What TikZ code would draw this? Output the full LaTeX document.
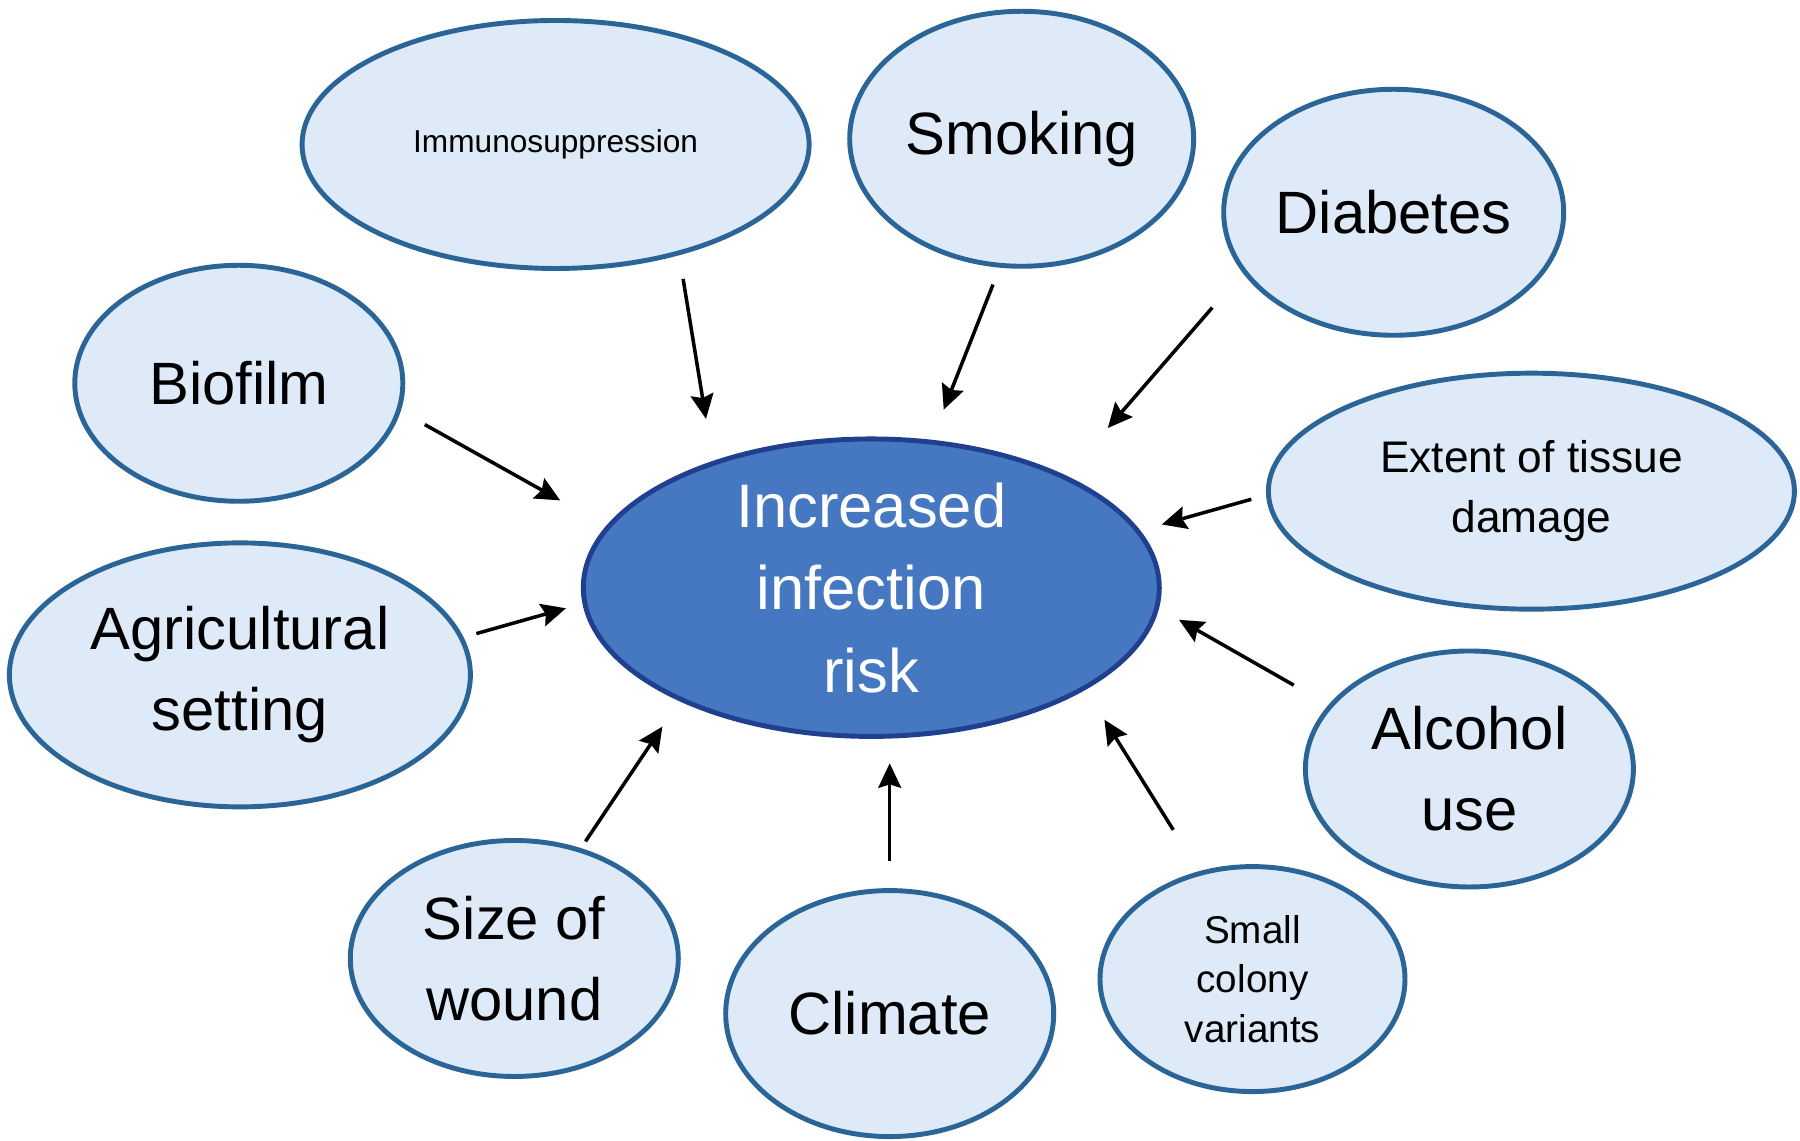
\documentclass[tikz,border=0pt]{standalone}
\usepackage{fontspec}
\setmainfont{Liberation Sans}
\usepackage{tikz}
\usetikzlibrary{shapes.geometric,arrows.meta,calc}

\definecolor{riskfill}{HTML}{4677C1}
\definecolor{riskline}{HTML}{1F3F8F}
\definecolor{factfill}{HTML}{DEEAF7}
\definecolor{factline}{HTML}{2B6597}

\begin{document}
\begin{tikzpicture}[
        factor/.style={ellipse,draw=factline,fill=factfill,line width=1.4pt,inner sep=0pt,align=center,
            font=\fontsize{17}{23}\selectfont},
        risk/.style={ellipse,draw=riskline,fill=riskfill,line width=1.4pt,inner sep=0pt,align=center,
            text=white,font=\fontsize{17.5}{23.5}\selectfont},
        arr/.style={-{Stealth[length=7pt,width=6.5pt,inset=1pt]},line width=1pt,black}
    ]
    \useasboundingbox (0,0) rectangle (18,11.41);
    % centre
    \node[risk,minimum width=5.76cm,minimum height=2.92cm] (risk) at (8.713,5.533) {Increased\\infection\\risk};
    % factors
    \node[factor,minimum width=5.07cm,minimum height=2.48cm,font=\fontsize{9}{11}\selectfont] (imm) at (5.556,9.965) {Immunosuppression};
    \node[factor,minimum width=3.44cm,minimum height=2.55cm] (smoke) at (10.217,10.022) {Smoking};
    \node[factor,minimum width=3.40cm,minimum height=2.46cm] (diab) at (13.937,9.287) {Diabetes};
    \node[factor,minimum width=3.28cm,minimum height=2.36cm] (bio) at (2.388,7.577) {Biofilm};
    \node[factor,minimum width=5.26cm,minimum height=2.36cm,font=\fontsize{12.6}{17}\selectfont] (tissue) at (15.314,6.498) {Extent of tissue\\damage};
    \node[factor,minimum width=4.61cm,minimum height=2.64cm] (agri) at (2.399,4.661) {Agricultural\\setting};
    \node[factor,minimum width=3.28cm,minimum height=2.36cm] (alc) at (14.694,3.720) {Alcohol\\use};
    \node[factor,minimum width=3.28cm,minimum height=2.36cm] (wound) at (5.143,1.825) {Size of\\wound};
    \node[factor,minimum width=3.28cm,minimum height=2.46cm] (clim) at (8.897,1.274) {Climate};
    \node[factor,minimum width=3.05cm,minimum height=2.25cm,font=\fontsize{11}{14}\selectfont] (scv) at (12.525,1.619) {Small\\colony\\variants};
    % arrow ends
    \coordinate (imm-a) at (6.831,8.621);    \coordinate (imm-b) at (7.060,7.221);
    \coordinate (smoke-a) at (9.930,8.564);  \coordinate (smoke-b) at (9.437,7.313);
    \coordinate (diab-a) at (12.123,8.334);  \coordinate (diab-b) at (11.078,7.129);
    \coordinate (bio-a) at (4.248,7.164);    \coordinate (bio-b) at (5.602,6.406);
    \coordinate (tissue-a) at (12.513,6.417); \coordinate (tissue-b) at (11.618,6.165);
    \coordinate (agri-a) at (4.764,5.074);   \coordinate (agri-b) at (5.660,5.327);
    \coordinate (alc-a) at (12.938,4.558);   \coordinate (alc-b) at (11.790,5.212);
    \coordinate (wound-a) at (5.855,2.996);  \coordinate (wound-b) at (6.624,4.144);
    \coordinate (clim-a) at (8.897,2.801);   \coordinate (clim-b) at (8.897,3.777);
    \coordinate (scv-a) at (11.733,3.111);   \coordinate (scv-b) at (11.044,4.213);
    \foreach \f in {imm,smoke,diab,bio,tissue,agri,alc,wound,clim,scv} {
        \draw[arr] (\f-a) -- (\f-b);
    }
\end{tikzpicture}
\end{document}
